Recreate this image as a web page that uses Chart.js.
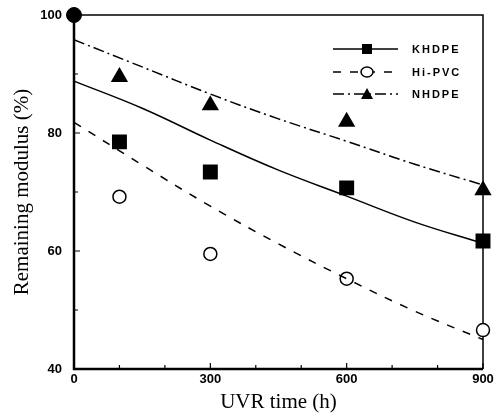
<!DOCTYPE html>
<html>
<head>
<meta charset="utf-8">
<script src="https://cdn.jsdelivr.net/npm/chart.js@4/dist/chart.umd.min.js"></script>
<style>
  html, body { margin: 0; background: #fff; }
  #wrap { width: 494px; height: 415px; }
</style>
</head>
<body>
<div id="wrap"><canvas id="chart"></canvas></div>
<script>
// measured points
const seriesNames = ['KHDPE', 'Hi-PVC', 'NHDPE'];
const pointTimes = [100, 300, 600, 900];
const khdpePoints = [78.5, 73.4, 70.7, 61.7];
const pvcPoints = [69.2, 59.5, 55.3, 46.6];
const nhdpePoints = [89.5, 84.7, 81.9, 70.3];
const startTime = [0];
const startValue = [100];

// fitted curves
const fitTimes = [0, 150, 300, 450, 600, 750, 900];
const khdpeFit = [88.8, 84.2, 78.8, 73.7, 69.3, 64.9, 61.3];
const pvcFit = [81.8, 74.6, 67.6, 61.2, 55.3, 49.8, 45.0];
const nhdpeFit = [95.8, 91.2, 86.6, 82.4, 78.6, 74.7, 71.2];

const xTicks = [0, 300, 600, 900];
const yTicks = [40, 60, 80, 100];
const xMinor = [100, 200, 400, 500, 700, 800];
const yMinor = [50, 70, 90];

const pairs = (xs, ys) => xs.map((x, i) => ({x: x, y: ys[i]}));

const tickFont = {family: '"Liberation Sans", Arial, sans-serif', weight: 'bold', size: 13};
const titleFont = {family: '"Liberation Serif", "Times New Roman", serif', size: 21};

const fitLine = (data, dash) => ({
  type: 'line', data: pairs(fitTimes, data), borderColor: '#000', borderWidth: 1.5,
  borderDash: dash, pointRadius: 0, tension: 0.4, fill: false, clip: false
});

const marks = (data, style, radius, fillColor) => ({
  type: 'scatter', data: pairs(pointTimes, data), pointStyle: style, pointRadius: radius,
  pointBackgroundColor: fillColor, pointBorderColor: '#000', pointBorderWidth: 1.5, clip: false
});

const legendRows = [
  {name: seriesNames[0], dash: [], style: 'rect', y: 49},
  {name: seriesNames[1], dash: [8, 9], style: 'circle', y: 72},
  {name: seriesNames[2], dash: [11, 4, 2, 4], style: 'triangle', y: 94}
];

function marker(ctx, style, x, y) {
  ctx.save();
  ctx.setLineDash([]);
  ctx.lineWidth = 1.5;
  ctx.strokeStyle = '#000';
  ctx.beginPath();
  if (style === 'rect') {
    ctx.fillStyle = '#000';
    ctx.rect(x - 5, y - 5, 10, 10);
    ctx.fill();
  } else if (style === 'circle') {
    ctx.fillStyle = '#fff';
    ctx.ellipse(x, y, 6, 5, 0, 0, Math.PI * 2);
    ctx.fill();
    ctx.stroke();
  } else {
    ctx.fillStyle = '#000';
    ctx.moveTo(x, y - 6);
    ctx.lineTo(x + 6, y + 5);
    ctx.lineTo(x - 6, y + 5);
    ctx.closePath();
    ctx.fill();
  }
  ctx.restore();
}

const framePlugin = {
  id: 'frame',
  beforeDatasetsDraw(chart) {
    const {ctx, chartArea: a, scales} = chart;
    ctx.save();
    ctx.strokeStyle = '#000';
    ctx.lineWidth = 1.5;
    ctx.beginPath();
    ctx.moveTo(a.left, a.top); ctx.lineTo(a.right, a.top); ctx.lineTo(a.right, a.bottom);
    ctx.stroke();
    ctx.lineWidth = 2.5;
    ctx.beginPath();
    ctx.moveTo(a.left, a.top); ctx.lineTo(a.left, a.bottom); ctx.lineTo(a.right, a.bottom);
    ctx.stroke();
    ctx.lineWidth = 1.2;
    ctx.beginPath();
    xTicks.concat(xMinor).forEach(v => {
      const px = scales.x.getPixelForValue(v);
      const len = xTicks.includes(v) ? 6 : 4;
      ctx.moveTo(px, a.bottom); ctx.lineTo(px, a.bottom - len);
    });
    yTicks.concat(yMinor).forEach(v => {
      const py = scales.y.getPixelForValue(v);
      const len = yTicks.includes(v) ? 6 : 4;
      ctx.moveTo(a.left, py); ctx.lineTo(a.left + len, py);
    });
    ctx.stroke();
    ctx.restore();
  },
  afterDatasetsDraw(chart) {
    const ctx = chart.ctx;
    ctx.save();
    legendRows.forEach(r => {
      ctx.strokeStyle = '#000';
      ctx.lineWidth = 1.5;
      ctx.setLineDash(r.dash);
      ctx.beginPath();
      ctx.moveTo(333, r.y); ctx.lineTo(398, r.y);
      ctx.stroke();
      marker(ctx, r.style, 367, r.y);
      ctx.fillStyle = '#000';
      ctx.font = 'bold 11px "Liberation Sans", Arial, sans-serif';
      ctx.letterSpacing = '2px';
      ctx.textBaseline = 'middle';
      ctx.textAlign = 'left';
      ctx.fillText(r.name, 412, r.y + 1);
    });
    ctx.restore();
  }
};

new Chart(document.getElementById('chart'), {
  data: {
    datasets: [
      fitLine(khdpeFit, []),
      fitLine(pvcFit, [8, 9]),
      fitLine(nhdpeFit, [11, 4, 2, 4]),
      marks(khdpePoints, 'rect', 9.5, '#000'),
      marks(pvcPoints, 'circle', 6.5, '#fff'),
      marks(nhdpePoints, 'triangle', 8.5, '#000'),
      {type: 'scatter', data: pairs(startTime, startValue), pointStyle: 'circle', pointRadius: 7.5,
       pointBackgroundColor: '#000', pointBorderColor: '#000', clip: false}
    ]
  },
  options: {
    responsive: true,
    maintainAspectRatio: false,
    animation: false,
    layout: {padding: {top: 15, right: 8, left: 0, bottom: 0}},
    plugins: {legend: {display: false}, tooltip: {enabled: false}},
    scales: {
      x: {
        type: 'linear', min: 0, max: 900,
        afterBuildTicks: s => { s.ticks = xTicks.map(v => ({value: v})); },
        afterFit: s => { s.height = 46; s.paddingLeft = 0; s.paddingRight = 0; },
        grid: {display: false, drawTicks: false},
        border: {display: false},
        ticks: {color: '#000', font: tickFont, padding: 3, maxRotation: 0, autoSkip: false},
        title: {display: true, text: 'UVR time (h)', color: '#000', font: titleFont, padding: {top: 0, bottom: 0}}
      },
      y: {
        type: 'linear', min: 40, max: 100,
        afterBuildTicks: s => { s.ticks = yTicks.map(v => ({value: v})); },
        afterFit: s => { s.width = 74; s.paddingTop = 0; s.paddingBottom = 0; },
        grid: {display: false, drawTicks: false},
        border: {display: false},
        ticks: {color: '#000', font: tickFont, padding: 12},
        title: {display: true, text: 'Remaining modulus (%)', color: '#000', font: titleFont, padding: {top: 10, bottom: 0}}
      }
    }
  },
  plugins: [framePlugin]
});
</script>
</body>
</html>
